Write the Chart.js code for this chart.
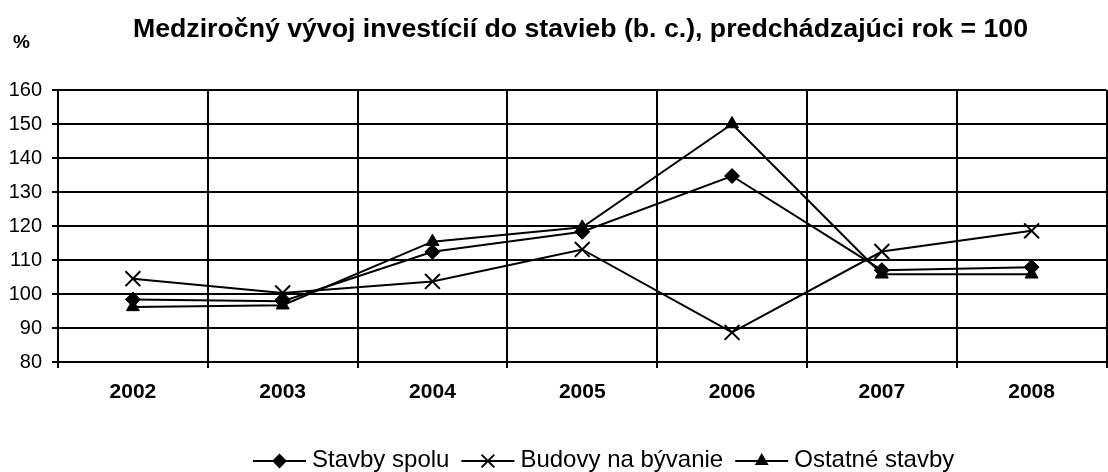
<!DOCTYPE html>
<html>
<head>
<meta charset="utf-8">
<title>Medziročný vývoj investícií do stavieb</title>
<script src="https://cdn.jsdelivr.net/npm/chart.js@4.4.1/dist/chart.umd.min.js"></script>
<style>
  html, body { margin: 0; padding: 0; background: #fff; overflow: hidden; }
  #investChart { display: block; width: 1108px; height: 472px; }
</style>
</head>
<body>
<canvas id="investChart" width="1108" height="472"></canvas>
<script>
//  data
const years = ['2002', '2003', '2004', '2005', '2006', '2007', '2008'];
const stavbySpolu = [98.4, 97.9, 112.4, 118.3, 134.7, 107.0, 107.9];
const budovyNaByvanie = [104.5, 100.3, 103.7, 113.1, 88.7, 112.5, 118.6];
const ostatneStavby = [96.2, 96.7, 115.4, 119.6, 150.0, 105.8, 105.8];
const seriesNames = ['Stavby spolu', 'Budovy na bývanie', 'Ostatné stavby'];
const yTicks = [80, 90, 100, 110, 120, 130, 140, 150, 160];

const chartTitle = 'Medziročný vývoj investícií do stavieb (b. c.), predchádzajúci rok = 100';
const FONT = 'Arial, "Liberation Sans", sans-serif';

//  make one black series
function makeSeries(label, data, style, radius) {
    return {
        label: label,
        data: data,
        borderColor: '#000',
        backgroundColor: '#000',
        borderWidth: 2,
        pointStyle: style,
        pointRadius: radius,
        pointHoverRadius: radius,
        pointBorderWidth: style === 'crossRot' ? 2 : 1,
        pointBorderColor: '#000',
        pointBackgroundColor: '#000',
        tension: 0
    };
}

//  the plot in the original runs past the right edge of the picture
const overflowPlugin = {
    id: 'overflowRight',
    afterLayout(chart) {
        const extra = 11;
        const xs = chart.scales.x;
        chart.chartArea.right += extra;
        chart.chartArea.width += extra;
        xs.right += extra;
        xs.width += extra;
        xs.configure();
    }
};

//  title, % sign and the legend are drawn here
const decorPlugin = {
    id: 'decor',
    afterDraw(chart) {
        const ctx = chart.ctx;
        ctx.save();
        ctx.fillStyle = '#000';
        ctx.textBaseline = 'alphabetic';

        ctx.font = 'bold 26.7px ' + FONT;
        ctx.textAlign = 'center';
        ctx.fillText(chartTitle, 580.5, 37);

        ctx.font = 'bold 19px ' + FONT;
        ctx.textAlign = 'left';
        ctx.fillText('%', 13, 48);

        // legend: line + marker + name
        ctx.font = '24px ' + FONT;
        let x = 253;
        const y = 461;
        chart.data.datasets.forEach(ds => {
            ctx.strokeStyle = '#000';
            ctx.lineWidth = 2;
            ctx.beginPath();
            ctx.moveTo(x, y);
            ctx.lineTo(x + 53, y);
            ctx.stroke();
            Chart.helpers.drawPoint(ctx, {
                pointStyle: ds.pointStyle,
                radius: ds.pointStyle === 'crossRot' ? 9 : 6,
                borderWidth: ds.pointBorderWidth,
                rotation: 0
            }, x + 26.5, y);
            ctx.fillStyle = '#000';
            ctx.fillText(ds.label, x + 59, 467);
            x += 59 + ctx.measureText(ds.label).width + 12;
        });
        ctx.restore();
    }
};

function drawChart() {
    const ctx = document.getElementById('investChart').getContext('2d');
    window.myChart = new Chart(ctx, {
        type: 'line',
        data: {
            labels: years,
            datasets: [
                makeSeries(seriesNames[0], stavbySpolu, 'rectRot', 7.5),
                makeSeries(seriesNames[1], budovyNaByvanie, 'crossRot', 10.5),
                makeSeries(seriesNames[2], ostatneStavby, 'triangle', 7.5)
            ]
        },
        options: {
            responsive: false,
            animation: false,
            layout: { padding: { top: 90, left: 0, right: 0, bottom: 0 } },
            plugins: {
                legend: { display: false },
                title: { display: false },
                tooltip: { enabled: false }
            },
            scales: {
                x: {
                    offset: true,
                    grid: { offset: true, color: '#000', lineWidth: 2, tickLength: 6, drawTicks: true },
                    border: { color: '#000', width: 2 },
                    ticks: { color: '#000', font: { family: FONT, size: 21, weight: 'bold' }, padding: 12, maxRotation: 0 },
                    afterFit: scale => { scale.height = 110; }
                },
                y: {
                    min: 80,
                    max: 160,
                    afterBuildTicks: scale => { scale.ticks = yTicks.map(v => ({ value: v })); },
                    grid: { color: '#000', lineWidth: 2, tickLength: 6 },
                    border: { color: '#000', width: 2 },
                    ticks: { color: '#000', font: { family: FONT, size: 20 }, padding: 10 },
                    afterFit: scale => { scale.width = 58; }
                }
            }
        },
        plugins: [overflowPlugin, decorPlugin]
    });
}

drawChart();
</script>
</body>
</html>
